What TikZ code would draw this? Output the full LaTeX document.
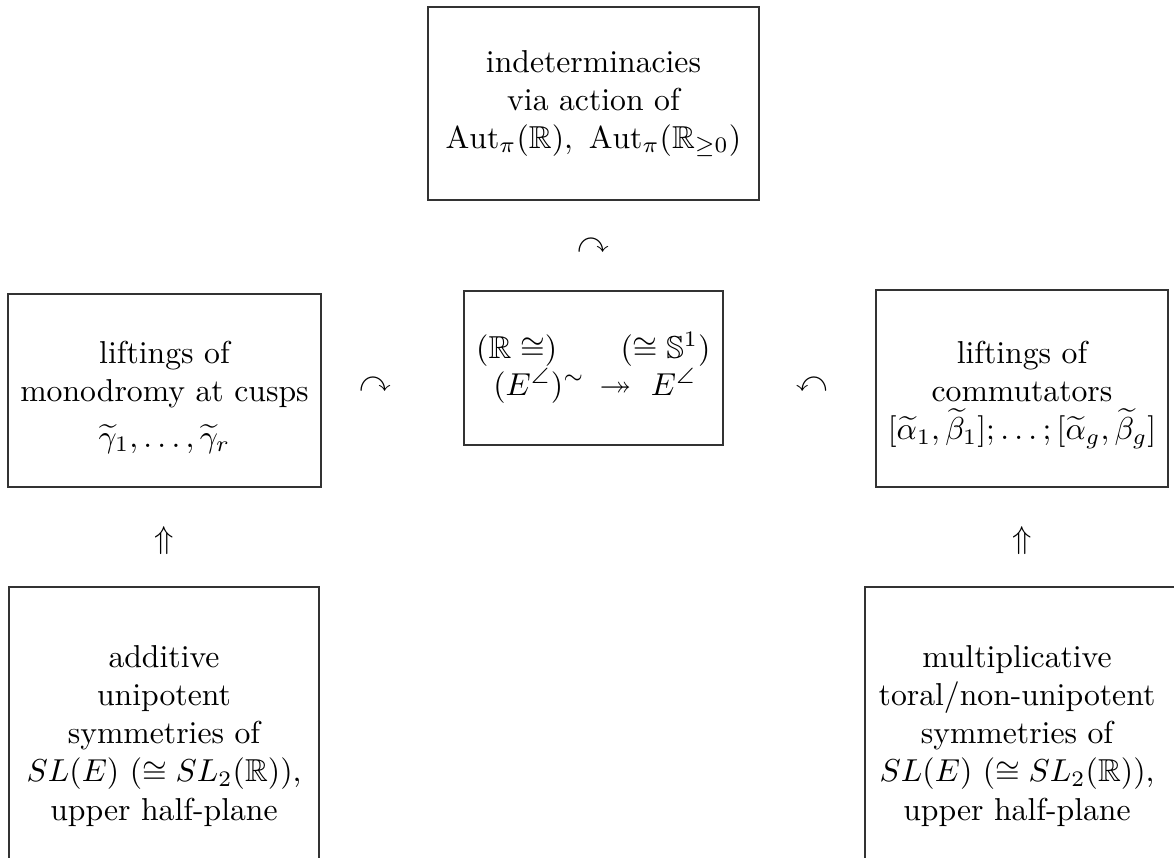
\documentclass[tikz,border=0pt]{standalone}
\usepackage{amsmath,amssymb}
\def\pxu{0.3155pt}
\begin{document}
\begin{tikzpicture}[x=0.3155pt,y=-0.3155pt,
  box/.style={draw, line width=0.45pt, draw=black!80, align=center, inner sep=0pt},
  inbox/.style={inner sep=0pt, align=center},
  sym/.style={inner sep=0pt, anchor=center},
  txt/.style={inner sep=0pt, anchor=base}]
\useasboundingbox (0,0) rectangle (1174,857);
\clip (0,0) rectangle (1174,857);
% boxes
\node[box, minimum width=331*\pxu, minimum height=193*\pxu] (top) at (593.5,103.5)
  {indeterminacies\\ via action of\\ $\mathrm{Aut}_\pi(\mathbb{R}),\ \mathrm{Aut}_\pi(\mathbb{R}_{\geq 0})$};
\node[box, minimum width=313*\pxu, minimum height=193*\pxu] (left) at (164.5,390.5) {};
\node[inbox] (lefttext) at (164.5,397)
  {liftings of\\ monodromy at cusps\\[2.5pt] $\widetilde{\gamma}_1,\ldots,\widetilde{\gamma}_r$};
\node[box, minimum width=259*\pxu, minimum height=154*\pxu] (mid) at (593.5,368) {};
\node[box, minimum width=292*\pxu, minimum height=197*\pxu] (right) at (1022,388.5) {};
\node[inbox] (righttext) at (1022,395)
  {liftings of\\ commutators\\ $[\widetilde{\alpha}_1,\widetilde{\beta}_1];\ldots;[\widetilde{\alpha}_g,\widetilde{\beta}_g]$};
\node[box, minimum width=310*\pxu, minimum height=298*\pxu] (bl) at (164,736)
  {additive\\ unipotent\\ symmetries of\\ $SL(E)$ ($\cong SL_2(\mathbb{R})$),\\ upper half-plane};
\node[box, minimum width=320*\pxu, minimum height=298*\pxu] (brbox) at (1025,736) {};
\node[inbox] (brtext) at (1017,736)
  {multiplicative\\ toral/non-unipotent\\ symmetries of\\ $SL(E)$ ($\cong SL_2(\mathbb{R})$),\\ upper half-plane};
% centre box contents
\node[txt] (r1a) at (516.7,358) {$(\mathbb{R}\cong)$};
\node[txt] (r1b) at (665.5,358) {$(\cong\mathbb{S}^1)$};
\node[txt] (r2a) at (539,395) {$(E^{\angle})^{\sim}$};
\node[txt] (r2b) at (615.5,395) {$\twoheadrightarrow$};
\node[txt] (r2c) at (673.5,395) {$E^{\angle}$};
% action symbols
\node[sym] (acttop) at (593,246) {$\curvearrowright$};
\node[sym] (actleft) at (375,385) {$\curvearrowright$};
\node[sym] (actright) at (812,385) {$\curvearrowleft$};
\node[sym] (upl) at (164,541) {$\Uparrow$};
\node[sym] (upr) at (1022,541) {$\Uparrow$};
\end{tikzpicture}
\end{document}
